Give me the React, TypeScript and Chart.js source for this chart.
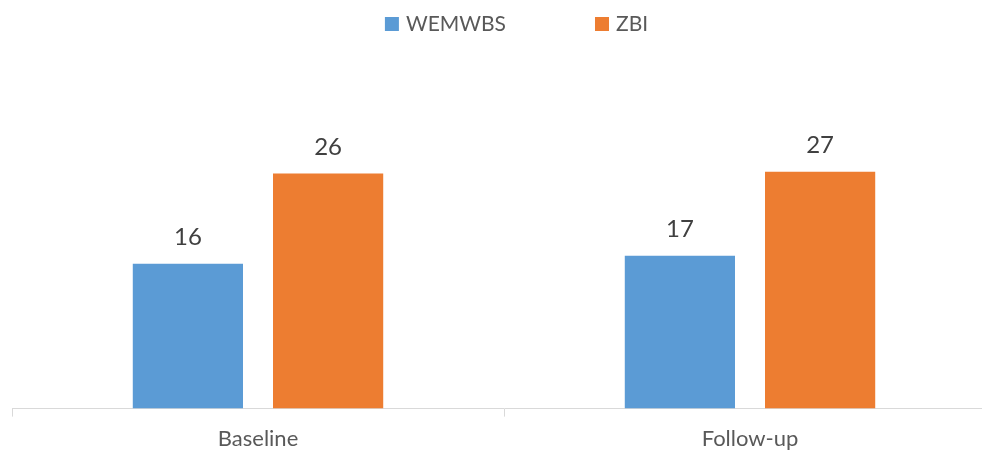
import React, { useEffect, useRef } from 'react';
import { Chart, registerables } from 'chart.js';
Chart.register(...registerables);

const categories = ['Baseline', 'Follow-up'];
const seriesNames = ['WEMWBS', 'ZBI'];
const wemwbsValues = [16.2, 17.1];
const zbiValues = [26.3, 26.5];
const seriesColors = ['#5B9BD5', '#ED7D31'];

const FONT = 'Lato, "Open Sans", sans-serif';
const CW = 1000;
const CH = 461;

export default function App() {
  const ref = useRef<HTMLCanvasElement>(null);
  useEffect(() => {
    if (!ref.current) return;
    const legendPlugin = {
      id: 'customLegend',
      afterDraw(chart: any) {
        const ctx = chart.ctx;
        ctx.save();
        ctx.font = `21px ${FONT}`;
        const box = 14, gap = 7, itemGap = 89;
        const items = chart.data.datasets.map((d: any) => ({
          label: d.label,
          color: d.backgroundColor,
          w: ctx.measureText(d.label).width,
        }));
        const total = items.reduce((s: number, it: any) => s + box + gap + it.w, 0) + itemGap * (items.length - 1);
        let x = 516.5 - total / 2;
        const cy = 24;
        ctx.textBaseline = 'middle';
        ctx.textAlign = 'left';
        items.forEach((it: any) => {
          ctx.fillStyle = it.color;
          ctx.fillRect(x, cy - box / 2, box, box);
          ctx.fillStyle = '#595959';
          ctx.fillText(it.label, x + box + gap, cy);
          x += box + gap + it.w + itemGap;
        });
        ctx.restore();
      },
    };
    const labelPlugin = {
      id: 'valueLabels',
      afterDatasetsDraw(chart: any) {
        const ctx = chart.ctx;
        ctx.save();
        ctx.font = `24px ${FONT}`;
        ctx.textAlign = 'center';
        ctx.textBaseline = 'middle';
        ctx.fillStyle = '#404040';
        chart.data.datasets.forEach((ds: any, i: number) => {
          const meta = chart.getDatasetMeta(i);
          meta.data.forEach((bar: any, j: number) => {
            ctx.fillText(String(Math.round(ds.data[j])), bar.x, bar.y - 26.5);
          });
        });
        ctx.restore();
      },
    };
    const chart = new Chart(ref.current, {
      type: 'bar',
      data: {
        labels: categories,
        datasets: [
          { label: seriesNames[0], data: wemwbsValues, backgroundColor: seriesColors[0], categoryPercentage: 0.57, barPercentage: 0.786 },
          { label: seriesNames[1], data: zbiValues, backgroundColor: seriesColors[1], categoryPercentage: 0.57, barPercentage: 0.786 },
        ],
      },
      options: {
        responsive: false,
        animation: false,
        layout: { padding: { left: 12, right: CW - 996, top: 51, bottom: 0 } },
        plugins: { legend: { display: false }, tooltip: { enabled: false } },
        scales: {
          x: {
            grid: { display: true, drawOnChartArea: false, drawTicks: true, tickLength: 8, color: '#D9D9D9', offset: true },
            border: { display: true, color: '#D9D9D9', width: 1 },
            ticks: { font: { family: FONT, size: 22 }, color: '#595959', padding: 9 },
          },
          y: { display: false, min: 0, max: 40 },
        },
      },
      plugins: [legendPlugin, labelPlugin],
    });
    return () => chart.destroy();
  }, []);
  return (
    <div style={{ position: 'fixed', left: 0, top: 0, width: 982, height: 451, overflow: 'hidden', background: '#fff' }}>
      <canvas ref={ref} width={CW} height={CH} style={{ width: CW, height: CH, display: 'block' }} />
    </div>
  );
}
